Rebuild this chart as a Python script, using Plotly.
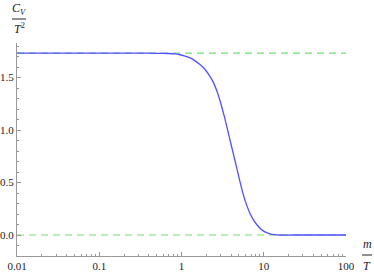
import plotly.graph_objects as go

# data
x_vals = [0.01, 0.1, 0.3, 0.5, 0.7, 0.83, 0.96, 1.1, 1.27, 1.45, 1.68, 1.9, 2.12, 2.44, 2.7,
          2.94, 3.38, 3.89, 4.23, 4.69, 5.1, 5.64, 6.2, 6.8, 7.5, 8.21, 9.2, 10.35, 11.9,
          13.5, 16, 30, 100]
y_vals = [1.733, 1.733, 1.733, 1.732, 1.730, 1.727, 1.718, 1.705, 1.688, 1.662, 1.625, 1.585,
          1.535, 1.455, 1.370, 1.280, 1.105, 0.905, 0.785, 0.640, 0.520, 0.385, 0.285, 0.205,
          0.145, 0.100, 0.058, 0.030, 0.011, 0.003, 0.0, 0.0, 0.0]
asym_high = 1.733
asym_low = 0.0
x_ticks = [0.01, 0.1, 1, 10, 100]
x_ticktext = ["0.01", "0.1", "1", "10", "100"]
y_ticks = [0.0, 0.5, 1.0, 1.5]
y_ticktext = ["0.0", "0.5", "1.0", "1.5"]

serif = "Liberation Serif, Times New Roman, Times, serif"
axis_col = "#999999"
green = "rgb(110,225,110)"
txt = "#222222"

L, R, T, B = 17, 28, 43, 17
W, H = 374, 273
pw, ph = W - L - R, H - T - B


def px(x):
    return (x - L) / pw


def py(y):
    return (H - B - y) / ph


fig = go.Figure()
for lvl in (asym_high, asym_low):
    fig.add_trace(go.Scatter(x=[0.01, 100], y=[lvl, lvl], mode="lines",
                             line=dict(color=green, width=1.2, dash="7px,5px"),
                             hoverinfo="skip", showlegend=False))
fig.add_trace(go.Scatter(x=x_vals, y=y_vals, mode="lines",
                         line=dict(color="rgb(80,80,255)", width=1.3, shape="spline", smoothing=0.6),
                         showlegend=False))

fig.update_layout(
    width=W, height=H,
    margin=dict(l=L, r=R, t=T, b=B),
    paper_bgcolor="white", plot_bgcolor="white",
    font=dict(family=serif, size=11, color=txt),
    xaxis=dict(type="log", range=[-2, 2], tickvals=x_ticks, ticktext=x_ticktext,
               automargin=False,
               showgrid=False, zeroline=False, showline=True, linecolor=axis_col, linewidth=1,
               ticks="inside", ticklen=4, tickcolor=axis_col,
               minor=dict(ticks="inside", ticklen=2, tickcolor=axis_col, dtick="D1", showgrid=False),
               tickfont=dict(family=serif, size=11, color=txt)),
    yaxis=dict(range=[-0.2, 1.83], tickvals=y_ticks, ticktext=y_ticktext,
               automargin=False,
               showgrid=False, zeroline=False, showline=True, linecolor=axis_col, linewidth=1,
               ticks="inside", ticklen=4, tickcolor=axis_col,
               minor=dict(ticks="inside", ticklen=2, tickcolor=axis_col, dtick=0.1, showgrid=False),
               tickfont=dict(family=serif, size=11, color=txt)),
)

lab_font = dict(family=serif, size=12, color=txt)
# y label: C_V / T^2
fig.add_annotation(xref="paper", yref="paper", x=px(19), y=py(9), xanchor="center", yanchor="middle",
                   text="<i>C</i><sub><i>V</i></sub>", showarrow=False, font=lab_font)
fig.add_annotation(xref="paper", yref="paper", x=px(19), y=py(29), xanchor="center", yanchor="middle",
                   text="<i>T</i><sup>2</sup>", showarrow=False, font=lab_font)
fig.add_shape(type="line", xref="paper", yref="paper", x0=px(12), x1=px(26), y0=py(19), y1=py(19),
              line=dict(color=txt, width=1))
# x label: m / T
fig.add_annotation(xref="paper", yref="paper", x=px(367), y=py(244), xanchor="center", yanchor="middle",
                   text="<i>m</i>", showarrow=False, font=lab_font)
fig.add_annotation(xref="paper", yref="paper", x=px(367), y=py(266), xanchor="center", yanchor="middle",
                   text="<i>T</i>", showarrow=False, font=lab_font)
fig.add_shape(type="line", xref="paper", yref="paper", x0=px(362), x1=px(372), y0=py(255), y1=py(255),
              line=dict(color=txt, width=1))

fig.write_html("out.html", config={"displayModeBar": False},
               post_script="document.body.style.margin='0';document.body.style.overflow='hidden';")
